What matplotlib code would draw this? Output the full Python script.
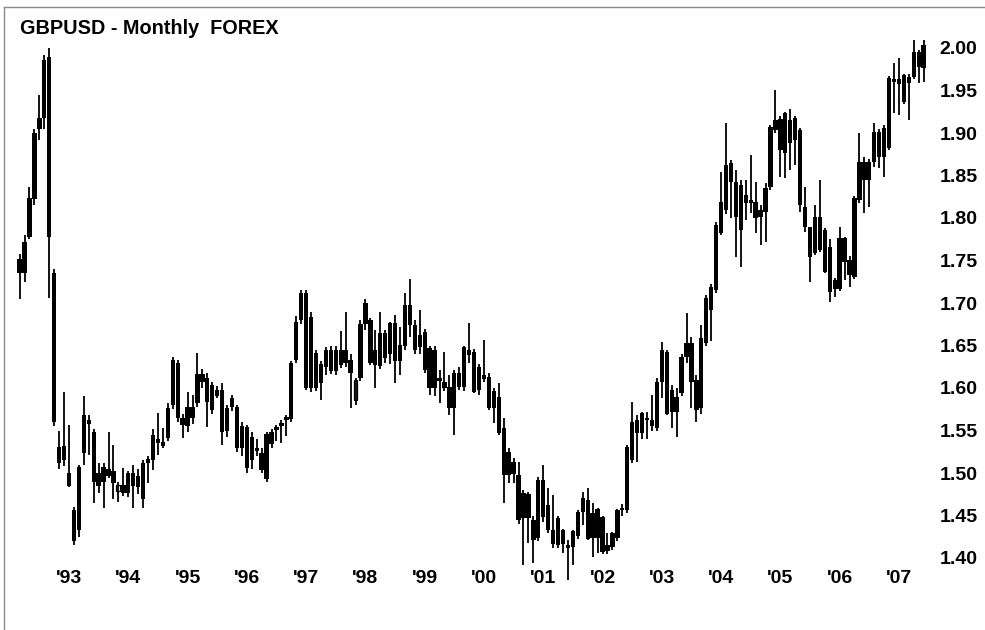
import numpy as np
import pandas as pd
import matplotlib
matplotlib.use("Agg")
import matplotlib.pyplot as plt
from matplotlib.lines import Line2D

# GBPUSD monthly bars, Mar 1992 .. Jun 2007
months = pd.period_range("1992-03", "2007-06", freq="M")

opens = [
    1.752, 1.735, 1.778, 1.822, 1.905, 1.918, 1.990, 1.735, 1.530, 1.515,                # 1992
    1.500, 1.456, 1.433, 1.523, 1.562, 1.548, 1.485, 1.507, 1.497, 1.502, 1.479, 1.486,  # 1993
    1.476, 1.500, 1.483, 1.470, 1.512, 1.515, 1.540, 1.536, 1.541, 1.580, 1.630, 1.565,  # 1994
    1.555, 1.578, 1.582, 1.617, 1.612, 1.574, 1.598, 1.598, 1.550, 1.578, 1.578, 1.529,  # 1995
    1.554, 1.515, 1.528, 1.523, 1.493, 1.534, 1.551, 1.555, 1.562, 1.563, 1.633, 1.680,  # 1996
    1.712, 1.600, 1.641, 1.606, 1.625, 1.645, 1.620, 1.645, 1.630, 1.633, 1.586, 1.612,  # 1997
    1.675, 1.680, 1.627, 1.626, 1.665, 1.640, 1.676, 1.632, 1.650, 1.698, 1.674, 1.648,  # 1998
    1.666, 1.647, 1.600, 1.612, 1.607, 1.601, 1.576, 1.618, 1.601, 1.645, 1.642, 1.598,  # 1999
    1.615, 1.613, 1.576, 1.589, 1.553, 1.498, 1.513, 1.498, 1.476, 1.447, 1.445, 1.424,  # 2000
    1.492, 1.462, 1.433, 1.415, 1.433, 1.412, 1.413, 1.426, 1.454, 1.468, 1.453, 1.424,  # 2001
    1.448, 1.415, 1.413, 1.424, 1.456, 1.456, 1.515, 1.562, 1.547, 1.565, 1.562, 1.553,  # 2002
    1.607, 1.642, 1.572, 1.572, 1.594, 1.636, 1.653, 1.609, 1.576, 1.653, 1.692, 1.715,  # 2003
    1.782, 1.809, 1.865, 1.842, 1.786, 1.827, 1.818, 1.819, 1.801, 1.807, 1.836, 1.904,  # 2004
    1.916, 1.876, 1.915, 1.892, 1.904, 1.813, 1.789, 1.759, 1.801, 1.736, 1.766, 1.727,  # 2005
    1.716, 1.776, 1.751, 1.731, 1.821, 1.866, 1.845, 1.866, 1.901, 1.872, 1.882, 1.963,  # 2006
    1.958, 1.968, 1.959, 1.966, 1.995, 1.977,                                            # 2007
]
highs = [
    1.758, 1.780, 1.836, 1.905, 1.945, 1.992, 2.000, 1.740, 1.550, 1.595,
    1.556, 1.460, 1.510, 1.590, 1.568, 1.552, 1.512, 1.512, 1.548, 1.533, 1.490, 1.506,
    1.502, 1.510, 1.505, 1.515, 1.520, 1.552, 1.571, 1.553, 1.582, 1.636, 1.633, 1.570,
    1.595, 1.592, 1.641, 1.622, 1.618, 1.607, 1.602, 1.606, 1.580, 1.592, 1.580, 1.560,
    1.556, 1.548, 1.540, 1.530, 1.548, 1.552, 1.556, 1.562, 1.568, 1.632, 1.685, 1.715,
    1.715, 1.690, 1.645, 1.632, 1.648, 1.650, 1.650, 1.667, 1.690, 1.640, 1.612, 1.680,
    1.705, 1.682, 1.668, 1.690, 1.668, 1.678, 1.686, 1.672, 1.712, 1.728, 1.680, 1.692,
    1.670, 1.650, 1.650, 1.621, 1.642, 1.615, 1.621, 1.625, 1.650, 1.676, 1.646, 1.628,
    1.656, 1.618, 1.600, 1.606, 1.565, 1.530, 1.518, 1.513, 1.480, 1.478, 1.450, 1.495,
    1.510, 1.482, 1.474, 1.450, 1.434, 1.421, 1.433, 1.456, 1.478, 1.482, 1.465, 1.459,
    1.450, 1.430, 1.431, 1.458, 1.463, 1.533, 1.584, 1.568, 1.572, 1.572, 1.592, 1.612,
    1.654, 1.645, 1.603, 1.600, 1.640, 1.688, 1.660, 1.615, 1.674, 1.710, 1.722, 1.795,
    1.854, 1.912, 1.868, 1.856, 1.845, 1.845, 1.874, 1.842, 1.815, 1.841, 1.910, 1.951,
    1.920, 1.925, 1.928, 1.920, 1.906, 1.836, 1.790, 1.815, 1.845, 1.788, 1.775, 1.730,
    1.789, 1.778, 1.755, 1.826, 1.900, 1.872, 1.870, 1.912, 1.905, 1.910, 1.967, 1.982,
    1.988, 1.970, 1.970, 2.009, 1.998, 2.009,
]
lows = [
    1.705, 1.725, 1.775, 1.815, 1.892, 1.905, 1.706, 1.555, 1.505, 1.508,
    1.483, 1.415, 1.425, 1.510, 1.521, 1.465, 1.476, 1.459, 1.494, 1.470, 1.466, 1.473,
    1.472, 1.459, 1.475, 1.459, 1.488, 1.503, 1.521, 1.529, 1.538, 1.575, 1.560, 1.541,
    1.548, 1.558, 1.578, 1.600, 1.554, 1.570, 1.588, 1.533, 1.542, 1.573, 1.525, 1.520,
    1.500, 1.505, 1.520, 1.500, 1.490, 1.529, 1.538, 1.535, 1.544, 1.560, 1.630, 1.675,
    1.598, 1.595, 1.597, 1.586, 1.615, 1.617, 1.615, 1.623, 1.625, 1.576, 1.580, 1.608,
    1.668, 1.627, 1.600, 1.622, 1.630, 1.628, 1.606, 1.615, 1.645, 1.660, 1.640, 1.640,
    1.618, 1.592, 1.590, 1.582, 1.597, 1.568, 1.545, 1.598, 1.597, 1.630, 1.594, 1.592,
    1.607, 1.574, 1.559, 1.545, 1.465, 1.488, 1.488, 1.440, 1.392, 1.418, 1.394, 1.420,
    1.442, 1.430, 1.412, 1.412, 1.406, 1.374, 1.392, 1.422, 1.439, 1.421, 1.401, 1.406,
    1.405, 1.405, 1.410, 1.420, 1.450, 1.453, 1.512, 1.513, 1.540, 1.540, 1.550, 1.550,
    1.588, 1.568, 1.553, 1.542, 1.590, 1.630, 1.576, 1.560, 1.570, 1.650, 1.655, 1.712,
    1.780, 1.805, 1.800, 1.754, 1.742, 1.798, 1.806, 1.782, 1.768, 1.772, 1.833, 1.900,
    1.848, 1.847, 1.856, 1.862, 1.807, 1.784, 1.725, 1.756, 1.760, 1.735, 1.701, 1.707,
    1.714, 1.727, 1.719, 1.728, 1.818, 1.806, 1.813, 1.860, 1.859, 1.848, 1.880, 1.924,
    1.921, 1.934, 1.915, 1.963, 1.959, 1.960,
]
closes = [
    1.735, 1.772, 1.824, 1.900, 1.918, 1.986, 1.778, 1.560, 1.512, 1.532,
    1.485, 1.420, 1.507, 1.568, 1.558, 1.490, 1.500, 1.490, 1.505, 1.488, 1.486, 1.477,
    1.500, 1.485, 1.497, 1.512, 1.517, 1.545, 1.535, 1.532, 1.576, 1.633, 1.565, 1.556,
    1.578, 1.565, 1.617, 1.607, 1.584, 1.604, 1.591, 1.548, 1.577, 1.588, 1.529, 1.555,
    1.506, 1.542, 1.526, 1.503, 1.546, 1.548, 1.554, 1.559, 1.566, 1.629, 1.678, 1.712,
    1.600, 1.684, 1.600, 1.628, 1.645, 1.620, 1.645, 1.627, 1.645, 1.618, 1.609, 1.675,
    1.700, 1.630, 1.645, 1.665, 1.635, 1.676, 1.632, 1.650, 1.698, 1.674, 1.645, 1.662,
    1.621, 1.600, 1.645, 1.608, 1.600, 1.576, 1.618, 1.601, 1.648, 1.639, 1.595, 1.625,
    1.610, 1.576, 1.596, 1.547, 1.498, 1.525, 1.499, 1.445, 1.447, 1.475, 1.421, 1.492,
    1.448, 1.433, 1.416, 1.447, 1.416, 1.415, 1.432, 1.454, 1.471, 1.422, 1.424, 1.458,
    1.407, 1.408, 1.429, 1.456, 1.458, 1.531, 1.560, 1.547, 1.570, 1.562, 1.555, 1.607,
    1.645, 1.570, 1.598, 1.589, 1.636, 1.653, 1.607, 1.574, 1.659, 1.706, 1.719, 1.792,
    1.819, 1.862, 1.842, 1.801, 1.839, 1.818, 1.820, 1.800, 1.810, 1.835, 1.907, 1.915,
    1.880, 1.923, 1.888, 1.918, 1.815, 1.789, 1.754, 1.801, 1.762, 1.786, 1.713, 1.716,
    1.776, 1.748, 1.733, 1.824, 1.866, 1.845, 1.866, 1.901, 1.872, 1.906, 1.965, 1.960,
    1.964, 1.937, 1.966, 1.995, 1.978, 2.003,
]

# bars drawn with an open (white) body
hollow = ["1993-11", "1997-11"]

price_ticks = [1.40, 1.45, 1.50, 1.55, 1.60, 1.65, 1.70, 1.75, 1.80, 1.85, 1.90, 1.95, 2.00]
year_labels = ["'93", "'94", "'95", "'96", "'97", "'98", "'99", "'00",
               "'01", "'02", "'03", "'04", "'05", "'06", "'07"]

plt.rcParams["font.family"] = ["Liberation Sans", "DejaVu Sans"]

W, H = 985, 630
fig = plt.figure(figsize=(W / 100, H / 100), dpi=100)
ax = fig.add_axes([0, 64 / H, 930 / W, 566 / H])

# x = months counted from Jan 1993
x = np.array([(p.year - 1993) * 12 + p.month - 1 for p in months])
o = np.array(opens)
h = np.array(highs)
l = np.array(lows)
c = np.array(closes)

body_lo = np.minimum(o, c)
body_h = np.maximum(np.abs(c - o), 0.003)
is_hollow = np.array([str(p) in hollow for p in months])

ax.vlines(x, l, h, color="black", linewidth=1.3, clip_on=False)
ax.bar(x[~is_hollow], body_h[~is_hollow], bottom=body_lo[~is_hollow],
       width=0.88, color="black", linewidth=0, clip_on=False)
ax.bar(x[is_hollow], body_h[is_hollow], bottom=body_lo[is_hollow],
       width=0.8, facecolor="white", edgecolor="black", linewidth=0.9, clip_on=False)

ax.set_xlim(-69 / 4.94, (930 - 69) / 4.94)
ax.set_ylim(2.00 - (566 - 48) / 850, 2.00 + 48 / 850)

ax.set_xticks(np.arange(0, 12 * len(year_labels), 12))
ax.set_xticklabels(year_labels)
ax.set_yticks(price_ticks)
ax.set_yticklabels([f"{v:.2f}" for v in price_ticks])
ax.yaxis.tick_right()
ax.tick_params(axis="y", length=0, pad=7, labelsize=14)
ax.tick_params(axis="x", length=0, pad=3, labelsize=14)
plt.setp(ax.get_xticklabels() + ax.get_yticklabels(), fontweight="bold")

for s in ax.spines.values():
    s.set_visible(False)

fig.text(20 / W, 1 - 19 / H, "GBPUSD - Monthly  FOREX", fontsize=14.3,
         fontweight="bold", va="top", ha="left")

# thin grey frame along the top and left edges
fig.add_artist(Line2D([3.5 / W, 3.5 / W], [0, 1 - 7 / H], color="#8a8a8a",
                      linewidth=1.0, transform=fig.transFigure))
fig.add_artist(Line2D([3.5 / W, 1], [1 - 7 / H, 1 - 7 / H], color="#8a8a8a",
                      linewidth=1.0, transform=fig.transFigure))

fig.savefig("out.png", dpi=100, facecolor="white")
